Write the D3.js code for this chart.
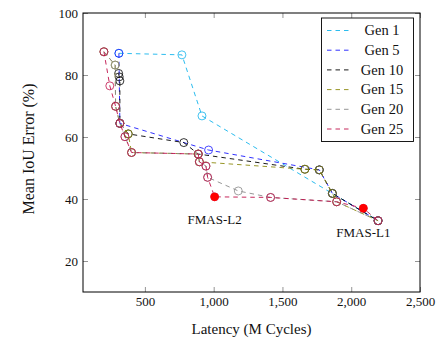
<!doctype html>
<html>
<head>
<meta charset="utf-8">
<title>Latency vs Mean IoU Error</title>
<script src="https://cdn.jsdelivr.net/npm/d3@7"></script>
<style>
  body { margin: 0; background: #fff; }
  svg text { font-family: "Liberation Serif", "DejaVu Serif", serif; fill: #111; }
</style>
</head>
<body>
<script>

// [latency (M cycles), mean IoU error (%)]
var gen1  = [[311, 87], [769, 86.5], [915, 66.8], [2195, 33]];
var gen5  = [[311, 87], [318, 64.4], [963, 55.8], [1768, 49.4], [1863, 41.8], [2195, 33]];
var gen10 = [[309, 80.5], [313, 79.4], [318, 78.1], [318, 64.4], [379, 61], [783, 58.2],
             [888, 54.5], [1663, 49.6], [1768, 49.4], [1863, 41.8], [2195, 33]];
var gen15 = [[202, 87.5], [284, 83.2], [287, 69.9], [318, 64.4], [379, 61], [403, 55], [888, 54.5],
             [896, 52], [1663, 49.6], [1768, 49.4], [1863, 41.8], [1894, 39.1], [2195, 33]];
var gen20 = [[202, 87.5], [284, 83.2], [287, 69.9], [318, 64.4], [355, 60.1], [403, 55], [888, 54.5],
             [896, 52], [944, 50.6], [956, 47], [1179, 42.6], [1414, 40.5], [1894, 39.1], [2195, 33]];
var gen25 = [[202, 87.5], [245, 76.5], [287, 69.9], [318, 64.4], [355, 60.1], [403, 55], [888, 54.5],
             [896, 52], [944, 50.6], [956, 47], [1007, 40.7], [1414, 40.5], [1894, 39.1], [2088, 37], [2195, 33]];

var seriesNames = ["Gen 1", "Gen 5", "Gen 10", "Gen 15", "Gen 20", "Gen 25"];
var seriesData = [gen1, gen5, gen10, gen15, gen20, gen25];
var seriesColors = ["#14b4ec", "#1a1aff", "#000000", "#8c8a10", "#8a8a8a", "#c0104a"];

var fmasNames = ["FMAS-L2", "FMAS-L1"];
var fmasPoints = [[1007, 40.7], [2088, 37]];

var xTicks = [500, 1000, 1500, 2000, 2500];
var yTicks = [20, 40, 60, 80, 100];

var W = 440, H = 339;
var pl = 83, pr = 420, pt = 13, pb = 292;

var svg = d3.select("body").append("svg")
  .attr("width", W).attr("height", H);

var x = d3.scaleLinear().domain([50, 2500]).range([pl, pr]);
var y = d3.scaleLinear().domain([10, 100]).range([pb, pt]);

// ticks (inside, mirrored on opposite sides)
var tickColor = "#7a7a7a";
var bx = d3.axisBottom(x).tickValues(xTicks).tickSize(-5).tickFormat(d3.format(","));
var tx = d3.axisTop(x).tickValues(xTicks).tickSize(-5).tickFormat("");
var ly = d3.axisLeft(y).tickValues(yTicks).tickSize(-5);
var ry = d3.axisRight(y).tickValues(yTicks).tickSize(-5).tickFormat("");

function styleAxis(g) {
  g.select(".domain").remove();
  g.selectAll(".tick line").attr("stroke", tickColor).attr("stroke-width", 0.8);
  g.selectAll(".tick text").style("font-size", "13px").style("font-family", "Liberation Serif").attr("fill", "#111");
}

svg.append("g").attr("transform", "translate(0," + pb + ")").call(bx).call(styleAxis)
  .selectAll(".tick text").attr("dy", "0").attr("y", 14);
svg.append("g").attr("transform", "translate(0," + pt + ")").call(tx).call(styleAxis);
svg.append("g").attr("transform", "translate(" + pl + ",0)").call(ly).call(styleAxis)
  .selectAll(".tick text").attr("x", -5).attr("dy", "0.35em");
svg.append("g").attr("transform", "translate(" + pr + ",0)").call(ry).call(styleAxis);

// series
var line = d3.line().x(function (d) { return x(d[0]); }).y(function (d) { return y(d[1]); });

seriesData.forEach(function (data, i) {
  var g = svg.append("g");
  g.append("path")
    .attr("d", line(data))
    .attr("fill", "none")
    .attr("stroke", seriesColors[i])
    .attr("stroke-width", 0.9)
    .attr("stroke-dasharray", "4.5,4");
  g.selectAll("circle").data(data).enter().append("circle")
    .attr("cx", function (d) { return x(d[0]); })
    .attr("cy", function (d) { return y(d[1]); })
    .attr("r", 4)
    .attr("fill", "none")
    .attr("stroke", seriesColors[i])
    .attr("stroke-width", 0.8);
});

// highlighted points
svg.selectAll("circle.fmas").data(fmasPoints).enter().append("circle")
  .attr("class", "fmas")
  .attr("cx", function (d) { return x(d[0]); })
  .attr("cy", function (d) { return y(d[1]); })
  .attr("r", 4.2)
  .attr("fill", "#ff0000");

svg.append("text").attr("x", x(fmasPoints[0][0])).attr("y", y(fmasPoints[0][1]) + 27)
  .attr("text-anchor", "middle").style("font-size", "13px").text(fmasNames[0]);
svg.append("text").attr("x", x(fmasPoints[1][0])).attr("y", y(fmasPoints[1][1]) + 29)
  .attr("text-anchor", "middle").style("font-size", "13px").text(fmasNames[1]);

// frame
svg.append("rect")
  .attr("x", pl).attr("y", pt).attr("width", pr - pl).attr("height", pb - pt)
  .attr("fill", "none").attr("stroke", "#000").attr("stroke-width", 1);

// legend
var lg = svg.append("g");
lg.append("rect").attr("x", 321.5).attr("y", 18).attr("width", 92).attr("height", 123.5)
  .attr("fill", "#fff").attr("stroke", "#000").attr("stroke-width", 0.9);
seriesNames.forEach(function (name, i) {
  var cy = 30.5 + i * 19.7;
  lg.append("line").attr("x1", 327).attr("x2", 352).attr("y1", cy).attr("y2", cy)
    .attr("stroke", seriesColors[i]).attr("stroke-width", 0.9).attr("stroke-dasharray", "4.5,4");
  lg.append("text").attr("x", 382).attr("y", cy + 4.8).attr("text-anchor", "middle")
    .style("font-size", "14.5px").text(name);
});

// axis titles
svg.append("text").attr("x", (pl + pr) / 2).attr("y", 334).attr("text-anchor", "middle")
  .style("font-size", "15px").text("Latency (M Cycles)");
svg.append("text").attr("transform", "translate(34,149) rotate(-90)").attr("text-anchor", "middle")
  .style("font-size", "16px").text("Mean IoU Error (%)");

</script>
</body>
</html>
